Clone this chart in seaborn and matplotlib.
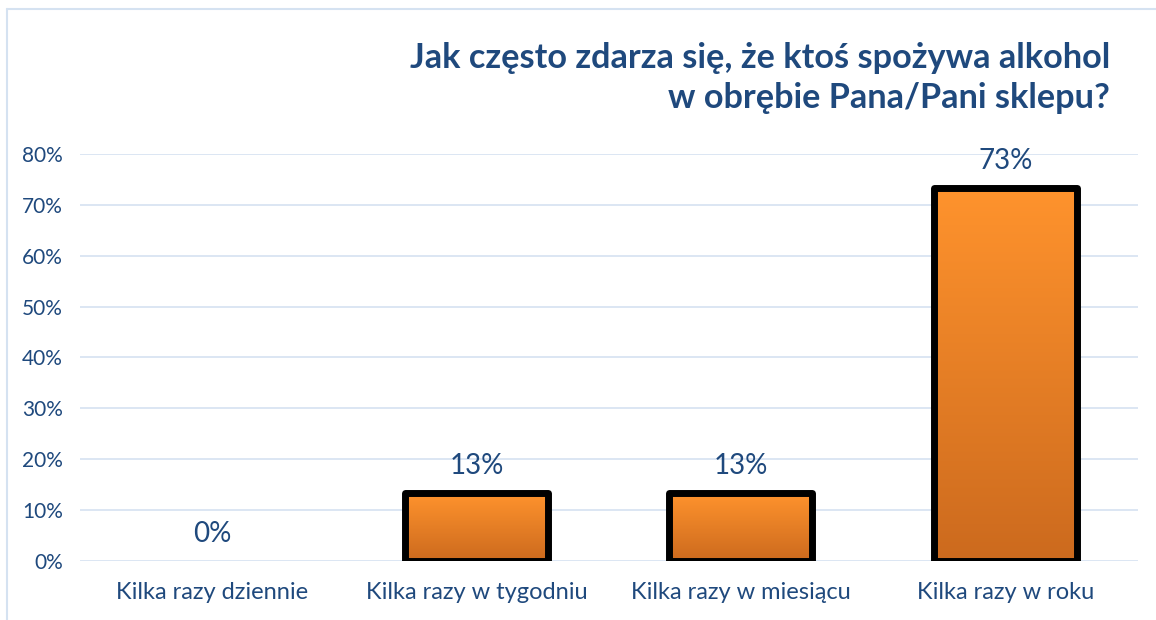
import numpy as np
import pandas as pd
import matplotlib
matplotlib.use('Agg')
import matplotlib.pyplot as plt
import seaborn as sns
from matplotlib.lines import Line2D

# dane z wykresu
kategorie = ['Kilka razy dziennie', 'Kilka razy w tygodniu', 'Kilka razy w miesiącu', 'Kilka razy w roku']
wartosci = [0.0, 13.3, 13.3, 73.3]
tytul = 'Jak często zdarza się, że ktoś spożywa alkohol\nw obrębie Pana/Pani sklepu?'
yticki = [0, 10, 20, 30, 40, 50, 60, 70, 80]

sns.set_theme(style='white')
plt.rcParams['font.family'] = ['Lato', 'DejaVu Sans']

niebieski = '#1F497D'
df = pd.DataFrame({'kat': kategorie, 'val': wartosci})

fig = plt.figure(figsize=(11.56, 6.2), dpi=100)
ax = fig.add_axes([0.069, 0.0952, 0.915, 0.6564])

sns.barplot(data=df, x='kat', y='val', ax=ax, width=0.54, color='#F28A2A',
            edgecolor='black', linewidth=5, zorder=3)

# gradient w kazdym slupku
grad = np.linspace(0, 1, 256).reshape(-1, 1)
cmap = matplotlib.colors.LinearSegmentedColormap.from_list('pom', ['#FF932D', '#CC6A1E'])
for p in ax.patches:
    p.set_joinstyle('round')
    x0, y0 = p.get_x(), p.get_y()
    w, h = p.get_width(), p.get_height()
    if h <= 0:
        p.set_visible(False)
        continue
    im = ax.imshow(grad, extent=[x0, x0 + w, y0, y0 + h], aspect='auto', cmap=cmap,
                   origin='upper', zorder=2.5)
    im.set_clip_path(p)
    p.set_facecolor('none')

ax.set_xlim(-0.5, 3.5)
ax.set_ylim(0, 80)
ax.set_yticks(yticki)
ax.set_yticklabels([f'{t}%' for t in yticki])
ax.grid(axis='y', color='#D5E2F1', linewidth=1.2)
ax.set_axisbelow(True)
for s in ax.spines.values():
    s.set_visible(False)
ax.set_xlabel('')
ax.set_ylabel('')
ax.tick_params(axis='y', length=0, pad=12, labelsize=15, labelcolor=niebieski)
ax.tick_params(axis='x', length=0, pad=15, labelsize=17, labelcolor=niebieski)

for i, v in enumerate(wartosci):
    ax.annotate(f'{v:.0f}%', (i, v), xytext=(0, 10), textcoords='offset points',
                ha='center', va='bottom', fontsize=20, color=niebieski, annotation_clip=False)

fig.text(0.960, 0.874, tytul, ha='right', va='center', ma='right', fontsize=24.7,
         fontweight='bold', color=niebieski, linespacing=1.33)

# ramka wykresu
fig.add_artist(Line2D([7 / 1156, 7 / 1156], [0, 1 - 9 / 620], color='#D5E2F1', linewidth=1.5))
fig.add_artist(Line2D([7 / 1156, 1], [1 - 9 / 620, 1 - 9 / 620], color='#D5E2F1', linewidth=1.5))

fig.savefig('out.png', dpi=100)
